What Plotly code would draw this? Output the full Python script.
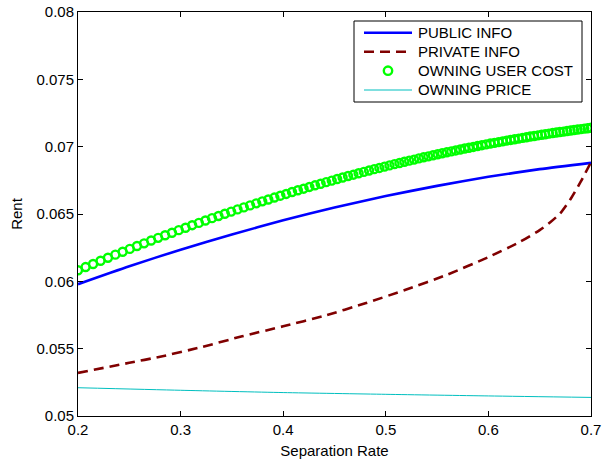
import plotly.graph_objects as go

# ---- data ----
sep_rate_owning = [
    0.2000, 0.2074, 0.2147, 0.2220, 0.2292, 0.2364, 0.2435, 0.2505, 0.2575, 0.2644,
    0.2713, 0.2781, 0.2849, 0.2916, 0.2982, 0.3048, 0.3113, 0.3178, 0.3242, 0.3306,
    0.3369, 0.3431, 0.3493, 0.3555, 0.3616, 0.3677, 0.3737, 0.3796, 0.3855, 0.3914,
    0.3972, 0.4029, 0.4086, 0.4143, 0.4199, 0.4255, 0.4310, 0.4365, 0.4419, 0.4473,
    0.4526, 0.4579, 0.4632, 0.4684, 0.4735, 0.4786, 0.4837, 0.4887, 0.4937, 0.4987,
    0.5036, 0.5085, 0.5133, 0.5181, 0.5228, 0.5275, 0.5322, 0.5368, 0.5414, 0.5460,
    0.5505, 0.5549, 0.5594, 0.5638, 0.5681, 0.5725, 0.5768, 0.5810, 0.5852, 0.5894,
    0.5936, 0.5977, 0.6018, 0.6058, 0.6098, 0.6138, 0.6177, 0.6217, 0.6255, 0.6294,
    0.6332, 0.6370, 0.6407, 0.6445, 0.6482, 0.6518, 0.6554, 0.6590, 0.6626, 0.6661,
    0.6696, 0.6731, 0.6766, 0.6800, 0.6834, 0.6868, 0.6901, 0.6934, 0.6967, 0.7000,
]
owning_user_cost = [
    0.06082, 0.06106, 0.06129, 0.06153, 0.06175, 0.06198, 0.06220, 0.06241, 0.06262, 0.06282,
    0.06303, 0.06323, 0.06342, 0.06361, 0.06380, 0.06398, 0.06417, 0.06434, 0.06452, 0.06469,
    0.06485, 0.06502, 0.06518, 0.06534, 0.06549, 0.06564, 0.06579, 0.06594, 0.06608, 0.06622,
    0.06636, 0.06649, 0.06663, 0.06676, 0.06688, 0.06701, 0.06713, 0.06725, 0.06737, 0.06748,
    0.06760, 0.06771, 0.06782, 0.06792, 0.06803, 0.06813, 0.06823, 0.06833, 0.06842, 0.06852,
    0.06861, 0.06870, 0.06879, 0.06888, 0.06896, 0.06904, 0.06913, 0.06921, 0.06928, 0.06936,
    0.06944, 0.06951, 0.06958, 0.06965, 0.06972, 0.06979, 0.06986, 0.06992, 0.06998, 0.07005,
    0.07011, 0.07017, 0.07023, 0.07028, 0.07034, 0.07039, 0.07045, 0.07050, 0.07055, 0.07060,
    0.07065, 0.07070, 0.07075, 0.07079, 0.07084, 0.07088, 0.07092, 0.07097, 0.07101, 0.07105,
    0.07109, 0.07112, 0.07116, 0.07120, 0.07124, 0.07127, 0.07130, 0.07134, 0.07137, 0.07140,
]

sep_rate_public = [0.20, 0.25, 0.30, 0.35, 0.40, 0.45, 0.50, 0.55, 0.60, 0.65, 0.70]
public_info = [0.05979, 0.06112, 0.06235, 0.06348, 0.06453, 0.06548,
               0.06633, 0.06709, 0.06776, 0.06833, 0.06880]

sep_rate_private = [0.20, 0.25, 0.28, 0.32, 0.36, 0.40, 0.44, 0.48, 0.52,
                    0.56, 0.60, 0.63, 0.65, 0.66, 0.67, 0.68, 0.69, 0.70]
private_info = [0.05320, 0.05395, 0.05440, 0.05511, 0.05592, 0.05666, 0.05744, 0.05837,
                0.05939, 0.06050, 0.06180, 0.06290, 0.06380, 0.06437, 0.06505, 0.06610,
                0.06740, 0.06885]

sep_rate_price = [0.20, 0.30, 0.40, 0.50, 0.60, 0.70]
owning_price = [0.05210, 0.05191, 0.05174, 0.05161, 0.05149, 0.05138]

x_ticks = [0.2, 0.3, 0.4, 0.5, 0.6, 0.7]
x_tick_labels = ["0.2", "0.3", "0.4", "0.5", "0.6", "0.7"]
y_ticks = [0.05, 0.055, 0.06, 0.065, 0.07, 0.075, 0.08]
y_tick_labels = ["0.05", "0.055", "0.06", "0.065", "0.07", "0.075", "0.08"]

series_names = ["PUBLIC INFO", "PRIVATE INFO", "OWNING USER COST", "OWNING PRICE"]

FONT = "Liberation Sans, Arial, Helvetica, sans-serif"
BLUE, DARKRED, GREEN, CYAN = "#0000FF", "#800000", "#00FF00", "#00BFBF"

W, H = 602, 464
ML, MR, MT, MB = 78, 11, 12, 48
PW, PH = W - ML - MR, H - MT - MB


def px(x):  # window pixel -> paper x
    return (x - ML) / PW


def py(y):  # window pixel -> paper y
    return 1 - (y - MT) / PH


fig = go.Figure()
fig.add_trace(go.Scatter(
    x=sep_rate_public, y=public_info, mode="lines", name=series_names[0],
    line=dict(color=BLUE, width=2.6, shape="spline", smoothing=0.6)))
fig.add_trace(go.Scatter(
    x=sep_rate_private, y=private_info, mode="lines", name=series_names[1],
    line=dict(color=DARKRED, width=2.6, dash="10px,6px", shape="spline", smoothing=0.6)))
fig.add_trace(go.Scatter(
    x=sep_rate_owning, y=owning_user_cost, mode="markers", name=series_names[2],
    marker=dict(symbol="circle-open", color=GREEN, size=8, line=dict(width=2.4, color=GREEN))))
fig.add_trace(go.Scatter(
    x=sep_rate_price, y=owning_price, mode="lines", name=series_names[3],
    line=dict(color=CYAN, width=1, shape="spline", smoothing=0.6)))

axis_common = dict(
    showline=True, linecolor="black", linewidth=1, mirror="ticks",
    ticks="inside", ticklen=5, tickcolor="black", tickwidth=1,
    showgrid=False, zeroline=False, ticklabeloverflow="allow",
    tickfont=dict(family=FONT, size=15, color="black"),
)

fig.update_xaxes(range=[0.2, 0.7], tickvals=x_ticks, ticktext=x_tick_labels,
                 ticklabelstandoff=0,
                 title=dict(text="Separation Rate", font=dict(family=FONT, size=15, color="black"),
                            standoff=8),
                 **axis_common)
fig.update_yaxes(range=[0.05, 0.08], tickvals=y_ticks, ticktext=y_tick_labels,
                 title=dict(text="Rent", font=dict(family=FONT, size=15, color="black"),
                            standoff=10),
                 **axis_common)

# ---- legend box (drawn in paper coordinates to match the reference layout) ----
shapes = [dict(type="rect", xref="paper", yref="paper",
               x0=px(354), x1=px(582), y0=py(102), y1=py(21),
               line=dict(color="black", width=1), fillcolor="white", layer="above")]
annotations = []
rows = [32.7, 51.7, 70.7, 90.0]
styles = [dict(color=BLUE, width=2.6), dict(color=DARKRED, width=2.6, dash="10px,6px"),
          None, dict(color=CYAN, width=1)]
for name, ry, st in zip(series_names, rows, styles):
    if st is None:
        shapes.append(dict(type="circle", xref="paper", yref="paper",
                           x0=px(388 - 4.2), x1=px(388 + 4.2), y0=py(ry + 4.2), y1=py(ry - 4.2),
                           line=dict(color=GREEN, width=2.4), layer="above"))
    else:
        shapes.append(dict(type="line", xref="paper", yref="paper",
                           x0=px(364), x1=px(412), y0=py(ry), y1=py(ry),
                           line=st, layer="above"))
    annotations.append(dict(text=name, xref="paper", yref="paper", x=px(416), y=py(ry),
                            xanchor="left", yanchor="middle", showarrow=False,
                            font=dict(family=FONT, size=15, color="black")))

fig.update_layout(
    width=W, height=H,
    margin=dict(l=ML, r=MR, t=MT, b=MB, autoexpand=False),
    paper_bgcolor="white", plot_bgcolor="white",
    font=dict(family=FONT, size=15, color="black"),
    showlegend=False,
    shapes=shapes, annotations=annotations,
)

# remove the browser's default 8px page margin so the figure fills the window exactly
fig.write_html("out.html", config={"displayModeBar": False},
               post_script="document.body.style.margin='0px';")
